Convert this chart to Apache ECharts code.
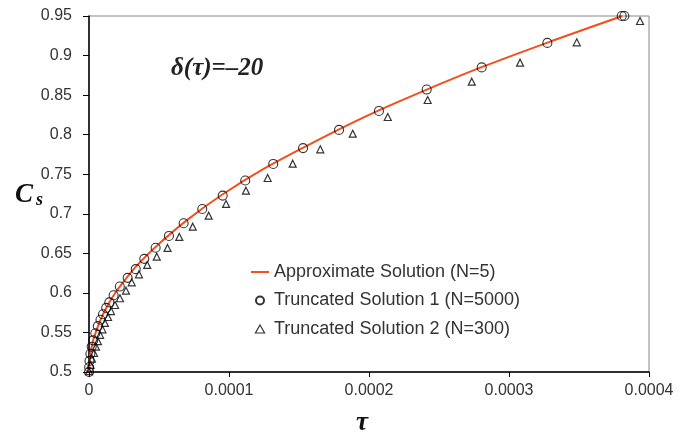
<!DOCTYPE html>
<html>
<head>
<meta charset="utf-8">
<title>Cs vs tau</title>
<script src="https://cdn.jsdelivr.net/npm/echarts@6/dist/echarts.min.js"></script>
<style>
  html, body { margin: 0; padding: 0; background: #fff; }
  #chart { width: 683px; height: 441px; }
</style>
</head>
<body>
<div id="chart"></div>
<script>
// values
const xTickLabels = ["0", "0.0001", "0.0002", "0.0003", "0.0004"];
const yTickLabels = ["0.5", "0.55", "0.6", "0.65", "0.7", "0.75", "0.8", "0.85", "0.9", "0.95"];

// Approximate Solution (N=5) - the red line
const tauApprox = [0, 1e-7, 5e-7, 1.5e-6, 3e-6, 5e-6, 8e-6, 1.2e-5, 1.8e-5, 2.5e-5, 3.5e-5,
  5e-5, 7e-5, 9.5e-5, 1.25e-4, 1.6e-4, 2.0e-4, 2.4e-4, 2.8e-4, 3.3e-4, 3.81e-4];
const csApprox = [0.5, 0.507, 0.516, 0.528, 0.540, 0.551, 0.565, 0.580, 0.598, 0.615, 0.636,
  0.662, 0.692, 0.724, 0.757, 0.790, 0.825, 0.856, 0.885, 0.918, 0.950];

// Truncated Solution 1 (N=5000) - circles
const tauTrunc1 = [0, 0.1e-6, 0.37e-6, 0.99e-6, 1.92e-6, 3.0e-6, 4.5e-6, 6.3e-6, 8.2e-6, 10.0e-6,
  12.3e-6, 14.5e-6, 17.6e-6, 22.0e-6, 27.6e-6, 33.4e-6, 39.5e-6, 47.6e-6, 57.1e-6, 67.6e-6,
  80.9e-6, 95.5e-6, 111.6e-6, 131.6e-6, 152.9e-6, 178.6e-6, 207.1e-6, 241.2e-6, 280.5e-6,
  327.4e-6, 380.5e-6, 382.4e-6];
const csTrunc1 = [0.500, 0.506, 0.514, 0.523, 0.532, 0.540, 0.549, 0.558, 0.566, 0.573,
  0.581, 0.588, 0.597, 0.608, 0.619, 0.630, 0.643, 0.657, 0.672, 0.688,
  0.706, 0.723, 0.742, 0.763, 0.783, 0.806, 0.830, 0.857, 0.885,
  0.916, 0.950, 0.950];

// Truncated Solution 2 (N=300) - triangles
const tauTrunc2 = [0, 1.1e-6, 2.1e-6, 3.6e-6, 5.0e-6, 6.4e-6, 7.9e-6, 9.6e-6, 11.4e-6, 13.6e-6,
  15.7e-6, 18.6e-6, 22.1e-6, 26.4e-6, 30.5e-6, 35.7e-6, 41.6e-6, 48.4e-6, 56.1e-6, 64.5e-6,
  74.1e-6, 85.5e-6, 97.9e-6, 112.1e-6, 127.6e-6, 145.5e-6, 165.2e-6, 188.4e-6, 213.4e-6,
  241.9e-6, 273.4e-6, 307.9e-6, 348.4e-6, 393.6e-6];
const csTrunc2 = [0.501, 0.509, 0.517, 0.524, 0.532, 0.539, 0.547, 0.554, 0.562, 0.5695,
  0.577, 0.5847, 0.5932, 0.6028, 0.6134, 0.6235, 0.6353, 0.6458, 0.6568, 0.6707,
  0.6837, 0.6976, 0.7124, 0.7292, 0.7452, 0.7633, 0.7815, 0.8012, 0.8223,
  0.8438, 0.8670, 0.8910, 0.9167, 0.9437];

function pairs(xs, ys) {
  return xs.map(function (x, i) { return [x, ys[i]]; });
}

const chart = echarts.init(document.getElementById("chart"));
const sans = "Liberation Sans, Arial, sans-serif";
const serif = "Liberation Serif, Times New Roman, serif";
const red = "#f24e1e";
const names = ["Approximate Solution (N=5)", "Truncated Solution 1 (N=5000)", "Truncated Solution 2 (N=300)"];

chart.setOption({
  animation: false,
  backgroundColor: "#fff",
  grid: {
    left: 89, right: 34, top: 16, bottom: 69,
    show: true, borderColor: "#888", borderWidth: 1
  },
  legend: {
    orient: "vertical",
    left: 246,
    top: 258,
    itemWidth: 18,
    itemHeight: 8,
    itemGap: 10.5,
    textStyle: { fontFamily: sans, fontSize: 18, color: "#333" },
    data: [
      { name: names[0], icon: "path://M0,0L18,0L18,2L0,2Z", itemStyle: { color: red, borderWidth: 0 } },
      { name: names[1], icon: "circle" },
      { name: names[2], icon: "path://M4,0L8,7L0,7Z",
        itemStyle: { color: "rgba(0,0,0,0)", borderColor: "#000", borderWidth: 1.2 } }
    ]
  },
  xAxis: {
    type: "value",
    min: 0, max: 0.0004, interval: 0.0001,
    axisLine: { lineStyle: { color: "#000", width: 1.5 } },
    axisTick: { length: 5, lineStyle: { color: "#000" } },
    splitLine: { show: false },
    axisLabel: {
      margin: 11, fontFamily: sans, fontSize: 16, color: "#333",
      formatter: function (v) { return xTickLabels[Math.round(v / 0.0001)]; }
    }
  },
  yAxis: {
    type: "value",
    min: 0.5, max: 0.95, interval: 0.05,
    axisLine: { show: true, lineStyle: { color: "#000", width: 1.5 } },
    axisTick: { show: true, length: 6, lineStyle: { color: "#000" } },
    splitLine: { show: false },
    axisLabel: {
      margin: 17, fontFamily: sans, fontSize: 16, color: "#333",
      formatter: function (v) { return yTickLabels[Math.round((v - 0.5) / 0.05)]; }
    }
  },
  graphic: [
    {
      type: "text", left: 171, top: 56,
      style: { text: "δ(τ)=–20", font: "italic bold 25px " + serif, fill: "#222" }
    },
    {
      type: "text", left: 15, top: 182,
      style: {
        text: "{c|C}{s|s}",
        rich: {
          c: { font: "italic bold 27px " + serif, fill: "#111" },
          s: { font: "italic bold 18px " + serif, fill: "#111", padding: [10, 0, 0, 3] }
        }
      }
    },
    {
      type: "text", left: 356, top: 410,
      style: { text: "τ", font: "italic bold 27px " + serif, fill: "#111" }
    }
  ],
  series: [
    {
      name: names[0],
      type: "line",
      data: pairs(tauApprox, csApprox),
      smooth: 0.3,
      symbol: "none",
      lineStyle: { color: red, width: 2 },
      itemStyle: { color: red },
      z: 2
    },
    {
      name: names[1],
      type: "scatter",
      data: pairs(tauTrunc1, csTrunc1),
      symbol: "circle",
      symbolSize: 9,
      itemStyle: { color: "rgba(0,0,0,0)", borderColor: "#000", borderWidth: 1.1 },
      z: 3
    },
    {
      name: names[2],
      type: "scatter",
      data: pairs(tauTrunc2, csTrunc2),
      symbol: "triangle",
      symbolSize: 7,
      itemStyle: { color: "rgba(0,0,0,0)", borderColor: "#000", borderWidth: 1.2 },
      z: 3
    }
  ]
});
</script>
</body>
</html>
